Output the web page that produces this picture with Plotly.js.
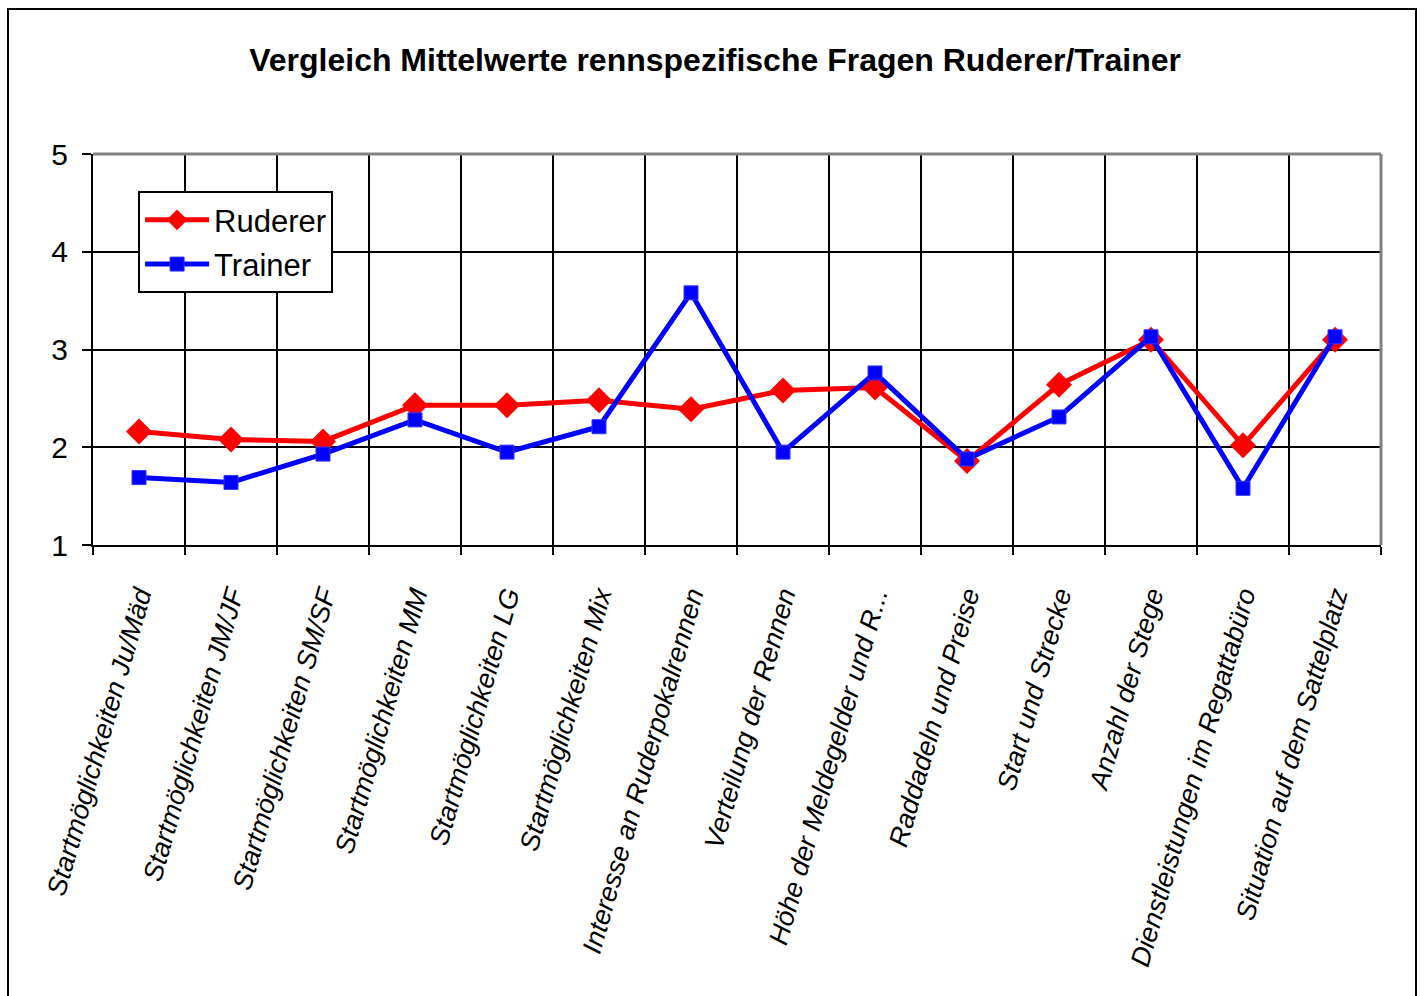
<!DOCTYPE html>
<html>
<head>
<meta charset="utf-8">
<script src="https://cdn.plot.ly/plotly-3.0.1.min.js"></script>
<style>
  html, body { margin: 0; padding: 0; background: #fff; }
  #chart { width: 1425px; height: 996px; }
  #frame { position: absolute; left: 7px; top: 8px; width: 1410px; height: 1100px;
           border: 2px solid #000; pointer-events: none; box-sizing: border-box; }
</style>
</head>
<body>
<div id="chart"></div>
<div id="frame"></div>
<script>
const categories = [
  "Startmöglichkeiten Ju/Mäd",
  "Startmöglichkeiten JM/JF",
  "Startmöglichkeiten SM/SF",
  "Startmöglichkeiten MM",
  "Startmöglichkeiten LG",
  "Startmöglichkeiten Mix",
  "Interesse an Ruderpokalrennen",
  "Verteilung der Rennen",
  "Höhe der Meldegelder und R...",
  "Raddadeln und Preise",
  "Start und Strecke",
  "Anzahl der Stege",
  "Dienstleistungen im Regattabüro",
  "Situation auf dem Sattelplatz"
];
const ruderer = [2.16, 2.08, 2.06, 2.43, 2.43, 2.48, 2.39, 2.58, 2.61, 1.86, 2.64, 3.10, 2.02, 3.10];
const trainer = [1.69, 1.64, 1.93, 2.28, 1.95, 2.21, 3.58, 1.95, 2.76, 1.88, 2.31, 3.13, 1.58, 3.13];
const yTicks = [1, 2, 3, 4, 5];

const traces = [
  {
    x: categories, y: ruderer, name: "Ruderer", type: "scatter", mode: "lines+markers",
    legendgroup: "r",
    line: { color: "#FF0000", width: 5 },
    marker: { symbol: "diamond", size: 20, color: "#FF0000" }
  },
  {
    x: categories, y: trainer, name: "Trainer", type: "scatter", mode: "lines+markers",
    legendgroup: "t",
    line: { color: "#0000FF", width: 5 },
    marker: { symbol: "square", size: 14, color: "#0000FF", line: { color: "#3333FF", width: 1 } }
  }
];

const layout = {
  width: 1425, height: 996,
  margin: { l: 93, r: 44, t: 154, b: 451 },
  paper_bgcolor: "#fff", plot_bgcolor: "#fff",
  font: { family: "Arial, Liberation Sans, sans-serif", color: "#000" },
  title: {
    text: "<b>Vergleich Mittelwerte rennspezifische Fragen Ruderer/Trainer</b>",
    font: { size: 32, family: "Arial, Liberation Sans, sans-serif", color: "#000" },
    x: 0.483, xref: "paper", xanchor: "center", y: 0.94, yref: "container", yanchor: "middle"
  },
  xaxis: {
    type: "category", tickson: "boundaries",
    range: [-0.5, 13.5],
    showgrid: true, gridcolor: "#000", gridwidth: 2,
    showline: true, linecolor: "#000", linewidth: 2,
    ticks: "outside", ticklen: 8, tickwidth: 2, tickcolor: "#000",
    tickangle: -74,
    tickfont: { size: 27, family: "Arial, Liberation Sans, sans-serif", color: "#000", style: "italic" },
    ticklabelstandoff: 22,
    zeroline: false
  },
  yaxis: {
    range: [1, 5], tickvals: yTicks, ticktext: yTicks.map(String),
    showgrid: true, gridcolor: "#000", gridwidth: 2,
    showline: true, linecolor: "#000", linewidth: 2,
    ticks: "outside", ticklen: 9, tickwidth: 2, tickcolor: "#000",
    tickfont: { size: 30, family: "Arial, Liberation Sans, sans-serif", color: "#000" },
    ticklabelstandoff: 8,
    zeroline: false
  },
  shapes: [
    { type: "line", xref: "paper", yref: "paper", x0: 0, x1: 1, y0: 1, y1: 1,
      line: { color: "#808080", width: 3 }, layer: "above" },
    { type: "line", xref: "paper", yref: "paper", x0: 1, x1: 1, y0: 0, y1: 1,
      line: { color: "#808080", width: 3 }, layer: "above" }
  ],
  legend: {
    x: 0.035, y: 0.905, xanchor: "left", yanchor: "top",
    bgcolor: "#fff", bordercolor: "#000", borderwidth: 2,
    font: { size: 31, family: "Arial, Liberation Sans, sans-serif", color: "#000" },
    itemwidth: 64, traceorder: "grouped", tracegroupgap: 1
  },
  showlegend: true
};

Plotly.newPlot("chart", traces, layout, { displayModeBar: false, staticPlot: true });
</script>
</body>
</html>
